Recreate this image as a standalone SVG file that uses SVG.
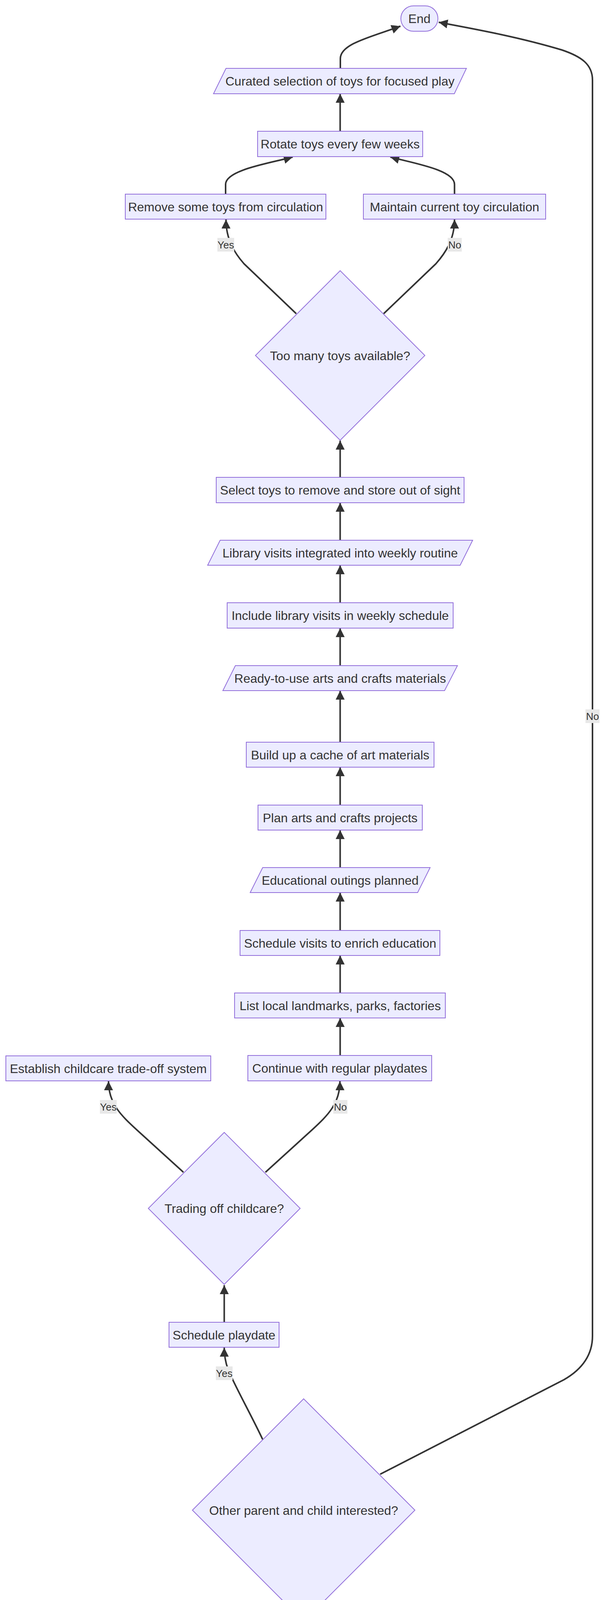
<svg xmlns="http://www.w3.org/2000/svg" width="1568" height="5022" viewBox="0 0 1568 5022">
<style>
.n rect,.n polygon{fill:#ECECFF;stroke:#9370DB;stroke-width:2}
.n text{font-family:"Trebuchet MS","Liberation Sans",Arial,sans-serif;font-size:32px;fill:#333333;text-anchor:middle}
.e path{fill:none;stroke:#333333;stroke-width:4;marker-end:url(#arr)}
.l rect{fill:#e8e8e8}
.l text{font-family:"Trebuchet MS","Liberation Sans",Arial,sans-serif;font-size:26px;fill:#333333;text-anchor:middle}
</style>
<defs>
<marker id="arr" viewBox="0 0 10 10" refX="10" refY="5" markerWidth="23" markerHeight="23" markerUnits="userSpaceOnUse" orient="auto">
<path d="M0,0 L10,5 L0,10 z" fill="#333333"/>
</marker>
</defs>
<rect width="1568" height="5022" fill="#ffffff"/>
<g class="e" id="connectors">
<path d="M778,4889 L778,4792"/>
<path d="M778,4727 L778,4632"/>
<path d="M778,4568 L778,4472"/>
<path d="M778,4407 L778,4311"/>
<path d="M778,4247 L778,4151"/>
<path d="M673,3685 C645,3625 600,3545 584,3505 C577,3485 574.5,3470 574.5,3450"/>
<path d="M974,3774 L1445,3532 Q1518,3490 1518,3420 L1518,205 C1518,165 1490,145 1440,128 C1330,95 1220,75 1124,57"/>
<path d="M574.5,3385 L574.5,3290"/>
<path d="M470,3001 L350,2892 C310,2855 278,2825 278,2768"/>
<path d="M680,3001 L800,2892 C840,2855 871,2825 871,2768"/>
<path d="M871.5,2702 L871.5,2606"/>
<path d="M871.5,2542 L871.5,2446"/>
<path d="M871.5,2382 L871.5,2285"/>
<path d="M871.5,2221 L871.5,2125"/>
<path d="M871.5,2061 L871.5,1964"/>
<path d="M871.5,1900 L871.5,1768"/>
<path d="M871.5,1704 L871.5,1608"/>
<path d="M871.5,1543 L871.5,1447"/>
<path d="M871.5,1383 L871.5,1287"/>
<path d="M871.5,1222 L871.5,1128"/>
<path d="M759,803 L625,675 C603,650 579,615 579,562"/>
<path d="M983,803 L1117,675 C1139,650 1164.5,615 1164.5,562"/>
<path d="M578,497 L578,472 C578,435 690,418 750,402"/>
<path d="M1164.5,497 L1164.5,472 C1164.5,435 1060,418 1000,402"/>
<path d="M871.5,336 L871.5,240"/>
<path d="M872,175 L872,150 C872,112 950,95 1026,67"/>
</g>
<g class="l" id="edge-labels">
<g><rect x="557" y="609" width="43" height="35"/><text x="578.5" y="635.5">Yes</text></g>
<g><rect x="1147" y="609" width="36" height="35"/><text x="1165" y="635.5">No</text></g>
<g><rect x="1500" y="1816" width="36" height="35"/><text x="1518" y="1842.5">No</text></g>
<g><rect x="256" y="2816" width="43" height="35"/><text x="277.5" y="2842.5">Yes</text></g>
<g><rect x="854" y="2816" width="36" height="35"/><text x="872" y="2842.5">No</text></g>
<g><rect x="553" y="3498" width="43" height="35"/><text x="574.5" y="3524.5">Yes</text></g>
</g>
<g class="n" id="end"><rect x="1027" y="15" width="95" height="65" rx="32.5" ry="32.5"/><text x="1074.5" y="59">End</text></g>
<g class="n" id="curated"><polygon points="579,175 1195,175 1164,240 547,240"/><text x="871" y="219">Curated selection of toys for focused play</text></g>
<g class="n" id="rotate"><rect x="660" y="336" width="423" height="65"/><text x="871.5" y="380">Rotate toys every few weeks</text></g>
<g class="n" id="remove"><rect x="321" y="497" width="514" height="64"/><text x="578" y="540.5">Remove some toys from circulation</text></g>
<g class="n" id="maintain"><rect x="931" y="497" width="467" height="64"/><text x="1164.5" y="540.5">Maintain current toy circulation</text></g>
<g class="n" id="too-many"><polygon points="871.5,693 1088.5,910 871.5,1127 654.5,910"/><text x="871.5" y="921.5">Too many toys available?</text></g>
<g class="n" id="select"><rect x="554" y="1222" width="635" height="65"/><text x="871.5" y="1266">Select toys to remove and store out of sight</text></g>
<g class="n" id="library"><polygon points="564,1383 1211,1383 1179,1447 532,1447"/><text x="871.5" y="1426.5">Library visits integrated into weekly routine</text></g>
<g class="n" id="include"><rect x="582" y="1543" width="579" height="65"/><text x="871.5" y="1587">Include library visits in weekly schedule</text></g>
<g class="n" id="ready"><polygon points="603,1704 1172,1704 1139,1768 571,1768"/><text x="871.5" y="1747.5">Ready-to-use arts and crafts materials</text></g>
<g class="n" id="build"><rect x="631" y="1900" width="481" height="64"/><text x="871.5" y="1943.5">Build up a cache of art materials</text></g>
<g class="n" id="plan"><rect x="661" y="2061" width="421" height="64"/><text x="871.5" y="2104.5">Plan arts and crafts projects</text></g>
<g class="n" id="educational"><polygon points="673,2221 1102,2221 1070,2285 641,2285"/><text x="871.5" y="2264.5">Educational outings planned</text></g>
<g class="n" id="schedule-visits"><rect x="615" y="2382" width="512" height="64"/><text x="871.5" y="2425.5">Schedule visits to enrich education</text></g>
<g class="n" id="list-local"><rect x="601" y="2542" width="540" height="64"/><text x="871.5" y="2585.5">List local landmarks, parks, factories</text></g>
<g class="n" id="continue"><rect x="635" y="2702" width="471" height="65"/><text x="870.5" y="2746">Continue with regular playdates</text></g>
<g class="n" id="establish"><rect x="15" y="2703" width="525" height="64"/><text x="277.5" y="2746.5">Establish childcare trade-off system</text></g>
<g class="n" id="trading"><polygon points="574.5,2899 769,3093.5 574.5,3288 380,3093.5"/><text x="574.5" y="3105">Trading off childcare?</text></g>
<g class="n" id="schedule-playdate"><rect x="433" y="3385" width="282" height="64"/><text x="574" y="3428.5">Schedule playdate</text></g>
<g class="n" id="other-parent"><polygon points="778,3581 1063,3866 778,4151 493,3866"/><text x="778" y="3877.5">Other parent and child interested?</text></g>
<g class="n" id="send"><rect x="460" y="4247" width="636" height="64"/><text x="778" y="4290.5">Send invitation to your house for a playdate</text></g>
<g class="n" id="established"><polygon points="567,4407 1022,4407 989,4472 534,4472"/><text x="778" y="4451">Established playdate schedule</text></g>
<g class="n" id="reach"><rect x="529" y="4568" width="497" height="64"/><text x="777.5" y="4611.5">Reach out and schedule playdates</text></g>
<g class="n" id="identify"><rect x="468" y="4727" width="620" height="65"/><text x="778" y="4771">Identify other families with young children</text></g>
<g class="n" id="start"><rect x="721" y="4889" width="112" height="64" rx="32" ry="32"/><text x="777" y="4932.5">Start</text></g>
</svg>
